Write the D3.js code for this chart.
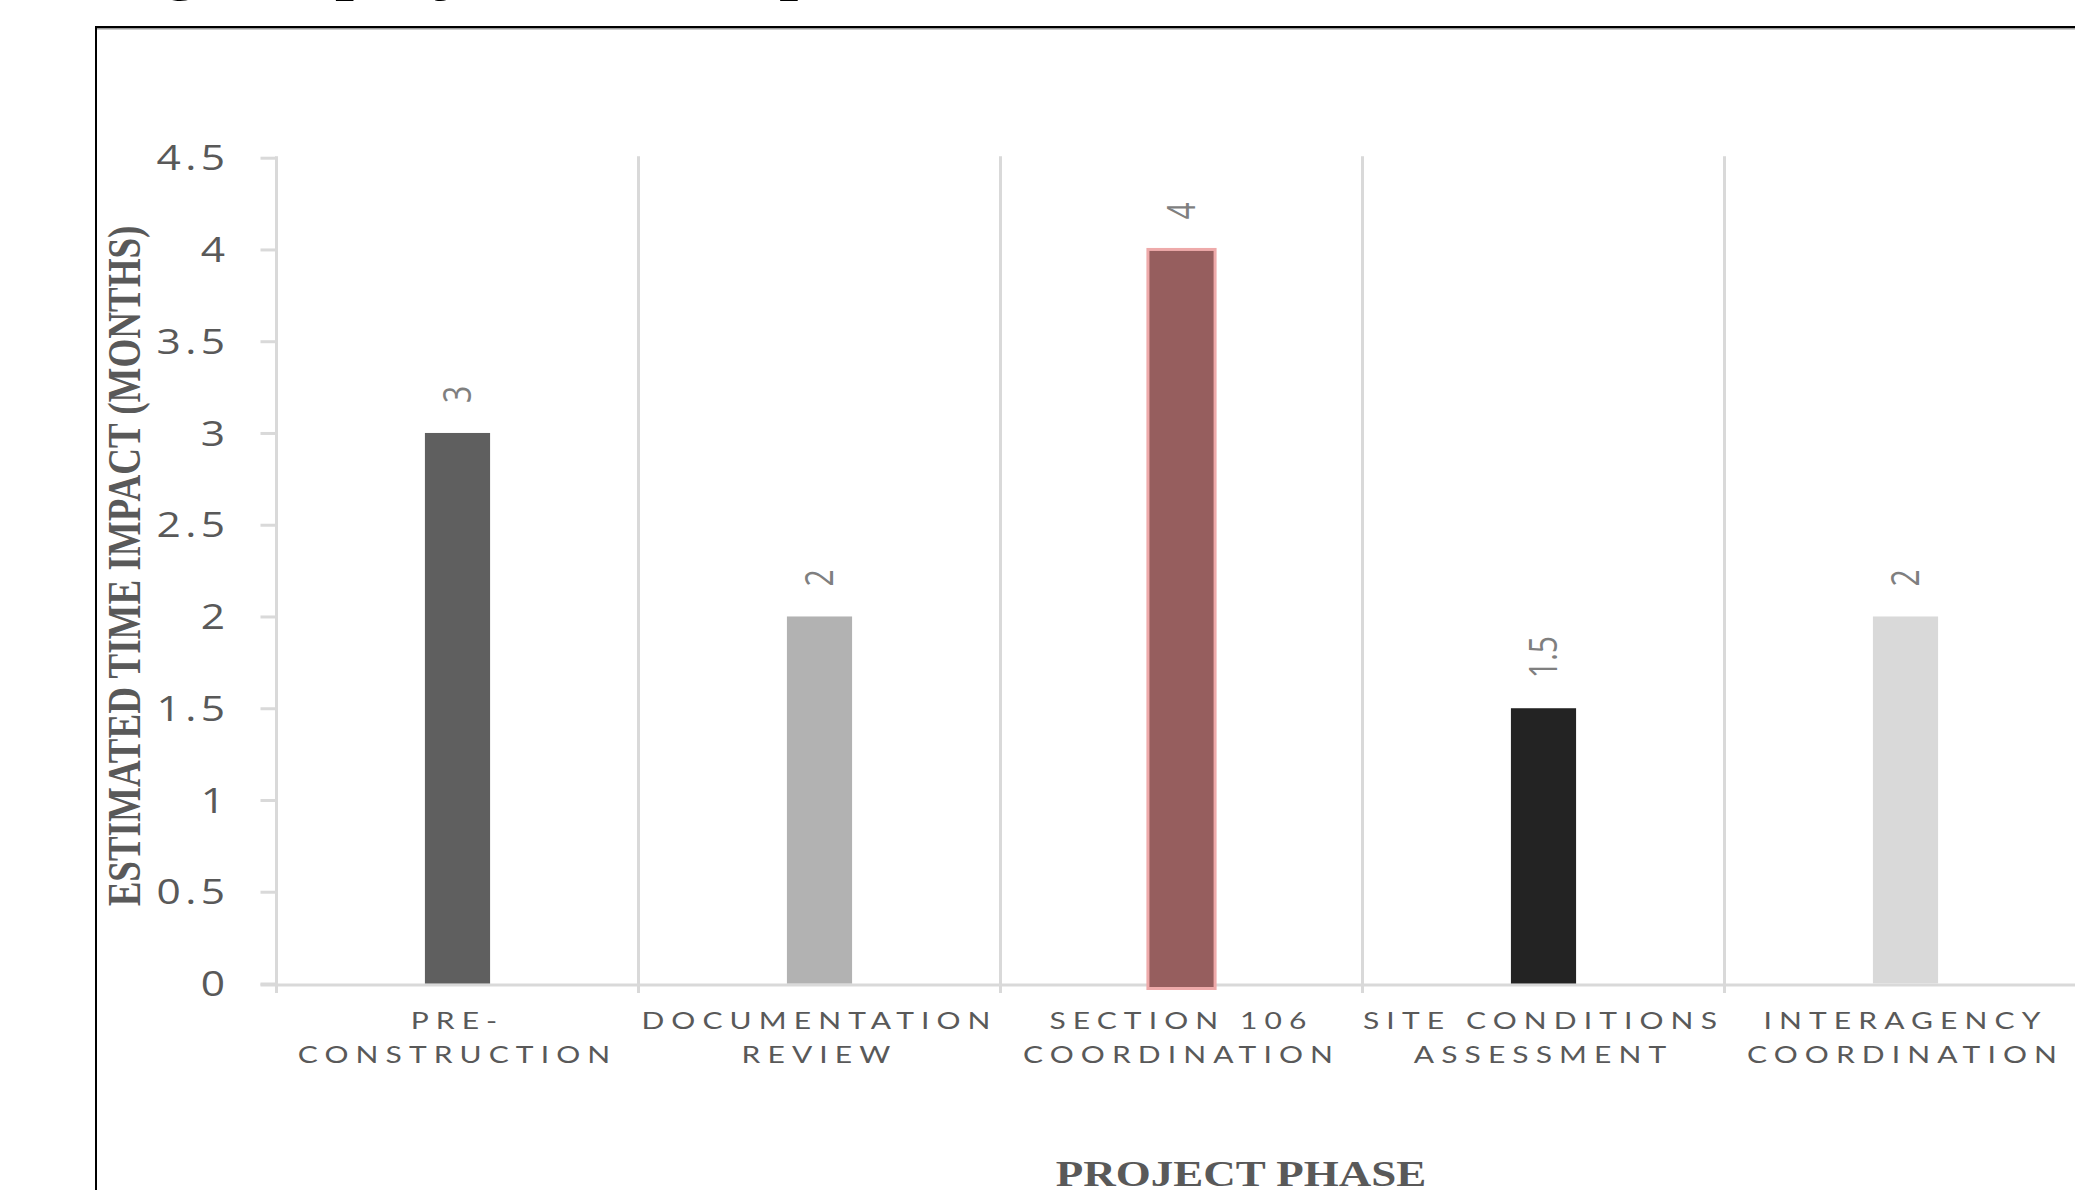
<!DOCTYPE html>
<html>
<head>
<meta charset="utf-8">
<script src="https://cdn.jsdelivr.net/npm/d3@7"></script>
<style>
html,body{margin:0;padding:0;background:#ffffff;overflow:hidden;}
svg{display:block;}
</style>
</head>
<body>
<svg id="chart" width="2075" height="1190"></svg>
<script>
// ---------------- data ----------------
const categories = ["Pre-Construction", "Documentation Review", "Section 106 Coordination", "Site Conditions Assessment", "Interagency Coordination"];
const values = [3, 2, 4, 1.5, 2];
const yTicks = [0, 0.5, 1, 1.5, 2, 2.5, 3, 3.5, 4, 4.5];
const highlighted = ["Section 106 Coordination"];
const titleText = "Figure: project time impact";
const xTitle = "PROJECT PHASE";
const yTitle = "ESTIMATED TIME IMPACT (MONTHS)";
// ---------------- styles ----------------
const barColors = ["#5f5f5f", "#b2b2b2", "#965e5e", "#232323", "#d9d9d9"];

const W = 2075, H = 1190;
const SX = 1.25;              // horizontal stretch of the pasted chart image
const plotLeft = 276.5, step = 362;
const gridColor = "#d9d9d9";
const textGray = "#595959";
const sans = "'Open Sans', sans-serif";
const serif = "'Liberation Serif', 'Times New Roman', serif";

const svg = d3.select("#chart");
svg.append("rect").attr("width", W).attr("height", H).attr("fill", "#ffffff");

// cut-off document title
svg.append("text")
  .attr("x", 104).attr("y", -13)
  .attr("font-family", serif).attr("font-weight", "bold").attr("font-size", 68)
  .attr("fill", "#000").text(titleText);

// chart frame (extends beyond viewport)
svg.append("line").attr("x1", 95).attr("x2", W).attr("y1", 27).attr("y2", 27)
  .attr("stroke", "#000").attr("stroke-width", 2);
svg.append("line").attr("x1", 97).attr("x2", W).attr("y1", 28.75).attr("y2", 28.75)
  .attr("stroke", "#9a9a9a").attr("stroke-width", 1.5);
svg.append("line").attr("x1", 96).attr("x2", 96).attr("y1", 26).attr("y2", H)
  .attr("stroke", "#000").attr("stroke-width", 2);

// scales
const x = d3.scaleBand().domain(categories)
  .range([plotLeft, plotLeft + step * categories.length])
  .paddingInner(0.82).paddingOuter(0.41);
const y = d3.scaleLinear().domain([0, 4.5]).range([983.5, 157.7]);
const color = d3.scaleOrdinal(categories, barColors);

// vertical gridlines at category boundaries (first one is the value axis)
const bounds = d3.range(categories.length + 1).map(i => x.range()[0] + i * x.step());
svg.append("g").selectAll("line").data(bounds).join("line")
  .attr("x1", d => d).attr("x2", d => d)
  .attr("y1", y(4.5) - 1.5).attr("y2", y(0) + 9.5)
  .attr("stroke", gridColor).attr("stroke-width", 3);

// horizontal category axis line
svg.append("line")
  .attr("x1", plotLeft - 16).attr("x2", W)
  .attr("y1", y(0) + 1.5).attr("y2", y(0) + 1.5)
  .attr("stroke", gridColor).attr("stroke-width", 3);

// value axis
const yAxisG = svg.append("g").attr("transform", `translate(${plotLeft},0)`)
  .call(d3.axisLeft(y).tickValues(yTicks).tickSize(16).tickFormat(d3.format("~g")));
yAxisG.select(".domain").remove();
yAxisG.selectAll(".tick line").attr("stroke", gridColor).attr("stroke-width", 3);
const tickLS = 3.5;
yAxisG.selectAll(".tick text")
  .attr("x", null).attr("dy", "0.36em").attr("text-anchor", "end")
  .attr("transform", `translate(${225 - plotLeft + tickLS * SX},0) scale(${SX},1)`)
  .attr("fill", textGray)
  .style("font-family", sans).style("font-size", "34px").style("letter-spacing", tickLS + "px");

// bars
svg.append("g").selectAll("rect").data(categories).join("rect")
  .attr("x", d => highlighted.includes(d) ? x(d) - 1 : x(d))
  .attr("width", d => highlighted.includes(d) ? x.bandwidth() + 2 : x.bandwidth())
  .attr("y", (d, i) => y(values[i]))
  .attr("height", (d, i) => y(0) - y(values[i]) + (highlighted.includes(d) ? 5 : 0))
  .attr("fill", d => color(d))
  .attr("stroke", d => highlighted.includes(d) ? "#eeaaaa" : "none")
  .attr("stroke-width", 3);

// data labels (rotated)
svg.append("g").selectAll("text").data(categories).join("text")
  .attr("transform", (d, i) => `translate(${x(d) + x.bandwidth() / 2},${y(values[i]) - 30}) scale(${SX},1) rotate(-90)`)
  .attr("text-anchor", "start").attr("dy", "0.35em")
  .attr("fill", "#7f7f7f")
  .style("font-family", sans).style("font-size", "30px")
  .text((d, i) => d3.format("~g")(values[i]));

// category axis labels
const catFont = "Lato, 'Open Sans', sans-serif";
const probe = svg.append("text").style("font-family", catFont).style("font-size", "24px").text("COORDINATION");
const natural = probe.node().getComputedTextLength();
probe.remove();
const catLS = Math.max(0, (310 / SX - natural) / 11);

function splitLabel(s) {
  const up = s.toUpperCase();
  const h = up.indexOf("-");
  if (h >= 0) return [up.slice(0, h + 1), up.slice(h + 1)];
  const sp = up.lastIndexOf(" ");
  return sp >= 0 ? [up.slice(0, sp), up.slice(sp + 1)] : [up];
}

const xAxisG = svg.append("g").attr("transform", `translate(0,${y(0)})`)
  .call(d3.axisBottom(x).tickSize(0).tickPadding(0));
xAxisG.select(".domain").remove();
xAxisG.selectAll(".tick text").each(function (d) {
  const t = d3.select(this);
  t.text(null).attr("y", null).attr("dy", null)
    .attr("text-anchor", "middle")
    .attr("transform", `translate(0,45.5) scale(${SX},1)`)
    .attr("fill", textGray)
    .style("font-family", catFont).style("font-size", "24px").style("letter-spacing", catLS + "px");
  splitLabel(d).forEach((line, i) => {
    t.append("tspan").attr("x", 0).attr("y", i * 34).text(line);
  });
});

// axis titles
svg.append("text")
  .attr("transform", `translate(1241,1186) scale(${SX},1)`)
  .attr("text-anchor", "middle")
  .attr("font-family", serif).attr("font-weight", "bold").attr("font-size", 36)
  .attr("fill", textGray).text(xTitle);

svg.append("text")
  .attr("transform", `translate(140,566) scale(${SX},1) rotate(-90)`)
  .attr("text-anchor", "middle")
  .attr("font-family", serif).attr("font-weight", "bold").attr("font-size", 37)
  .attr("fill", textGray).text(yTitle);
</script>
</body>
</html>
